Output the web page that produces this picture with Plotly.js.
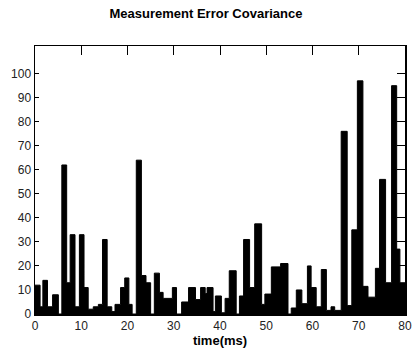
<!DOCTYPE html>
<html>
<head>
<meta charset="utf-8">
<script src="https://cdn.plot.ly/plotly-3.0.1.min.js"></script>
<style>
  html, body { margin: 0; padding: 0; background: #fff; }
  #chart { width: 412px; height: 356px; }
</style>
</head>
<body>
<div id="chart"></div>
<script>
// Step start times (ms) and covariance values
const timeMs = [0, 1.1, 1.7, 2.7, 3.8, 5.05, 5.8, 6.85, 7.6, 8.65,
  9.6, 10.6, 11.5, 12.6, 13.7, 14.6, 15.6, 16.6, 17.3, 18.5,
  19.4, 20.3, 21.0, 21.9, 23.0, 24.0, 25.0, 25.8, 26.9, 27.7,
  29.7, 30.6, 31.7, 33.2, 34.7, 35.8, 36.8, 37.2, 38.5, 39.0,
  40.3, 41.1, 42.0, 43.5, 44.2, 45.1, 46.4, 47.5, 49.0, 49.7,
  51.1, 53.1, 54.7, 55.4, 56.5, 57.7, 58.9, 59.7, 60.8, 61.9,
  63.0, 64.0, 64.8, 66.2, 67.5, 68.5, 69.7, 70.9, 72.0, 73.6,
  74.5, 75.8, 77.1, 78.2, 78.9];
const covariance = [12, 3, 14, 3, 8, 0, 62, 13, 33, 3,
  33, 11, 2, 3, 4, 31, 3, 1, 4, 11,
  15, 4, 0, 64, 16, 13, 0, 17, 9, 6.5,
  11, 0, 5, 11, 6, 11, 8.5, 11, 1, 7.5,
  0.5, 6.5, 18, 0, 7.5, 31, 11, 37.5, 4, 8.3,
  19.6, 21, 0, 2.5, 10, 4.3, 20, 11, 3, 18.5,
  1.5, 3, 1.5, 76, 3.5, 35, 97, 11.5, 7, 19,
  56, 13, 95, 27, 13];
const timeEnd = 80;
const xTicks = [0, 10, 20, 30, 40, 50, 60, 70, 80];
const yTicks = [0, 10, 20, 30, 40, 50, 60, 70, 80, 90, 100];

const xs = timeMs.concat([timeEnd]);
const ys = covariance.concat([covariance[covariance.length - 1]]);

const font = "Liberation Sans, Arial, sans-serif";

const trace = {
  type: 'scatter', mode: 'lines',
  x: xs, y: ys,
  line: { shape: 'hv', color: '#000', width: 1 },
  fill: 'tozeroy', fillcolor: '#000',
  hoverinfo: 'skip', showlegend: false
};

const layout = {
  width: 412, height: 356,
  margin: { l: 35, r: 7, t: 46, b: 42 },
  paper_bgcolor: '#fff', plot_bgcolor: '#fff',
  font: { family: font, color: '#111', size: 12 },
  title: { text: '<b>Measurement Error Covariance</b>', x: 0.5, xanchor: 'center', y: 0.962, yanchor: 'middle',
           font: { family: font, size: 13, color: '#000' } },
  xaxis: {
    range: [0, 80], tickmode: 'array', tickvals: xTicks,
    ticks: 'inside', ticklen: 4, tickcolor: '#000',
    showline: true, linecolor: '#000', linewidth: 1.5, showgrid: false, zeroline: false,
    tickfont: { size: 12, color: '#222' },
    title: { text: '<b>time(ms)</b>', font: { size: 13, color: '#000' }, standoff: 4 }
  },
  yaxis: {
    range: [0, 111.5], tickmode: 'array', tickvals: yTicks,
    ticks: 'inside', ticklen: 4, tickcolor: '#000',
    showline: true, linecolor: '#000', linewidth: 1.5, showgrid: false, zeroline: false,
    tickfont: { size: 12, color: '#222' }
  },
  xaxis2: {
    overlaying: 'x', side: 'top', matches: 'x', range: [0, 80],
    tickmode: 'array', tickvals: xTicks,
    ticks: 'inside', ticklen: 9, tickcolor: '#000', showticklabels: false,
    showline: true, linecolor: '#000', linewidth: 1.5, showgrid: false, zeroline: false
  },
  yaxis2: {
    overlaying: 'y', side: 'right', matches: 'y', range: [0, 111.5],
    tickmode: 'array', tickvals: yTicks,
    ticks: 'inside', ticklen: 8, tickcolor: '#000', showticklabels: false,
    showline: true, linecolor: '#000', linewidth: 1.5, showgrid: false, zeroline: false
  }
};

const ghost = { type: 'scatter', mode: 'markers', x: [0], y: [0], xaxis: 'x2', yaxis: 'y2',
  marker: { opacity: 0 }, hoverinfo: 'skip', showlegend: false };

Plotly.newPlot('chart', [trace, ghost], layout, { staticPlot: true });
</script>
</body>
</html>
